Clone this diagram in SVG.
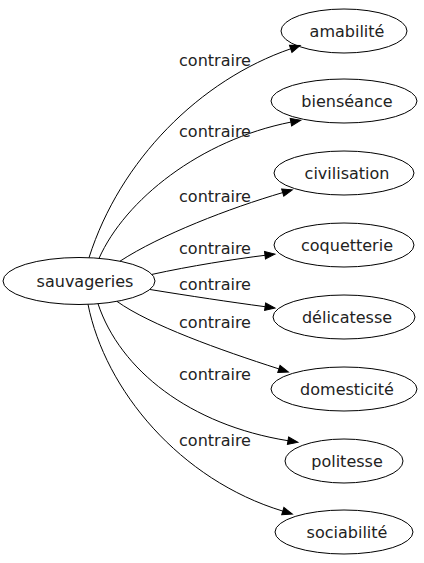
<svg xmlns="http://www.w3.org/2000/svg" width="424" height="563" viewBox="0 0 424 563">
<style>
.node ellipse{fill:none;stroke:#000;stroke-width:1}
.node text{font-family:"DejaVu Sans",sans-serif;font-size:16px;fill:#222;text-anchor:middle}
.edges path{fill:none;stroke:#000;stroke-width:1}
.lbl{font-family:"DejaVu Sans",sans-serif;font-size:16px;fill:#222;text-anchor:middle}
</style>
<defs>
<marker id="arr" markerUnits="userSpaceOnUse" markerWidth="11" markerHeight="9" viewBox="0 -4.5 11 9" refX="0" refY="0" orient="auto" overflow="visible">
<polygon points="0,-3.8 10,0 0,3.8" fill="#000" stroke="#000" stroke-width="1"/>
</marker>
</defs>
<rect width="424" height="563" fill="#fff"/>
<g class="edges">
<path d="M89,257.7 C120,160 200,80 290.7,48.8" marker-end="url(#arr)"/>
<path d="M99,258.4 C125,200 200,140 290.9,122.1" marker-end="url(#arr)"/>
<path d="M120,261.2 C160,235 230,208 282.7,192.6" marker-end="url(#arr)"/>
<path d="M152,274.4 C190,266 235,259 265,255.3" marker-end="url(#arr)"/>
<path d="M150,289.5 C190,296 230,302 265.1,306.7" marker-end="url(#arr)"/>
<path d="M117,301.4 C150,325 220,350 278.9,368.9" marker-end="url(#arr)"/>
<path d="M98,303.7 C120,370 190,425 288,440.7" marker-end="url(#arr)"/>
<path d="M88,304.3 C105,390 180,480 282.8,511.1" marker-end="url(#arr)"/>
<text class="lbl" x="215" y="66">contraire</text>
<text class="lbl" x="215" y="137">contraire</text>
<text class="lbl" x="215" y="202">contraire</text>
<text class="lbl" x="215" y="254">contraire</text>
<text class="lbl" x="215" y="290">contraire</text>
<text class="lbl" x="215" y="328">contraire</text>
<text class="lbl" x="215" y="380">contraire</text>
<text class="lbl" x="215" y="446">contraire</text>
</g>
<g id="sauvageries" class="node"><ellipse cx="79" cy="281" rx="76" ry="23.5"/><text x="85" y="286.5">sauvageries</text></g>
<g id="amabilite" class="node"><ellipse cx="344" cy="31" rx="63" ry="22"/><text x="347" y="36.5">amabilité</text></g>
<g id="bienseance" class="node"><ellipse cx="344" cy="101" rx="73" ry="22"/><text x="347" y="106.5">bienséance</text></g>
<g id="civilisation" class="node"><ellipse cx="344" cy="173" rx="70" ry="22"/><text x="347" y="178.5">civilisation</text></g>
<g id="coquetterie" class="node"><ellipse cx="344" cy="245" rx="70" ry="22"/><text x="347" y="250.5">coquetterie</text></g>
<g id="delicatesse" class="node"><ellipse cx="344" cy="317" rx="71" ry="22"/><text x="347" y="322.5">délicatesse</text></g>
<g id="domesticite" class="node"><ellipse cx="344" cy="389" rx="73" ry="22"/><text x="347" y="394.5">domesticité</text></g>
<g id="politesse" class="node"><ellipse cx="344" cy="461" rx="59" ry="22"/><text x="347" y="466.5">politesse</text></g>
<g id="sociabilite" class="node"><ellipse cx="344" cy="532" rx="69" ry="22"/><text x="347" y="537.5">sociabilité</text></g>
</svg>
